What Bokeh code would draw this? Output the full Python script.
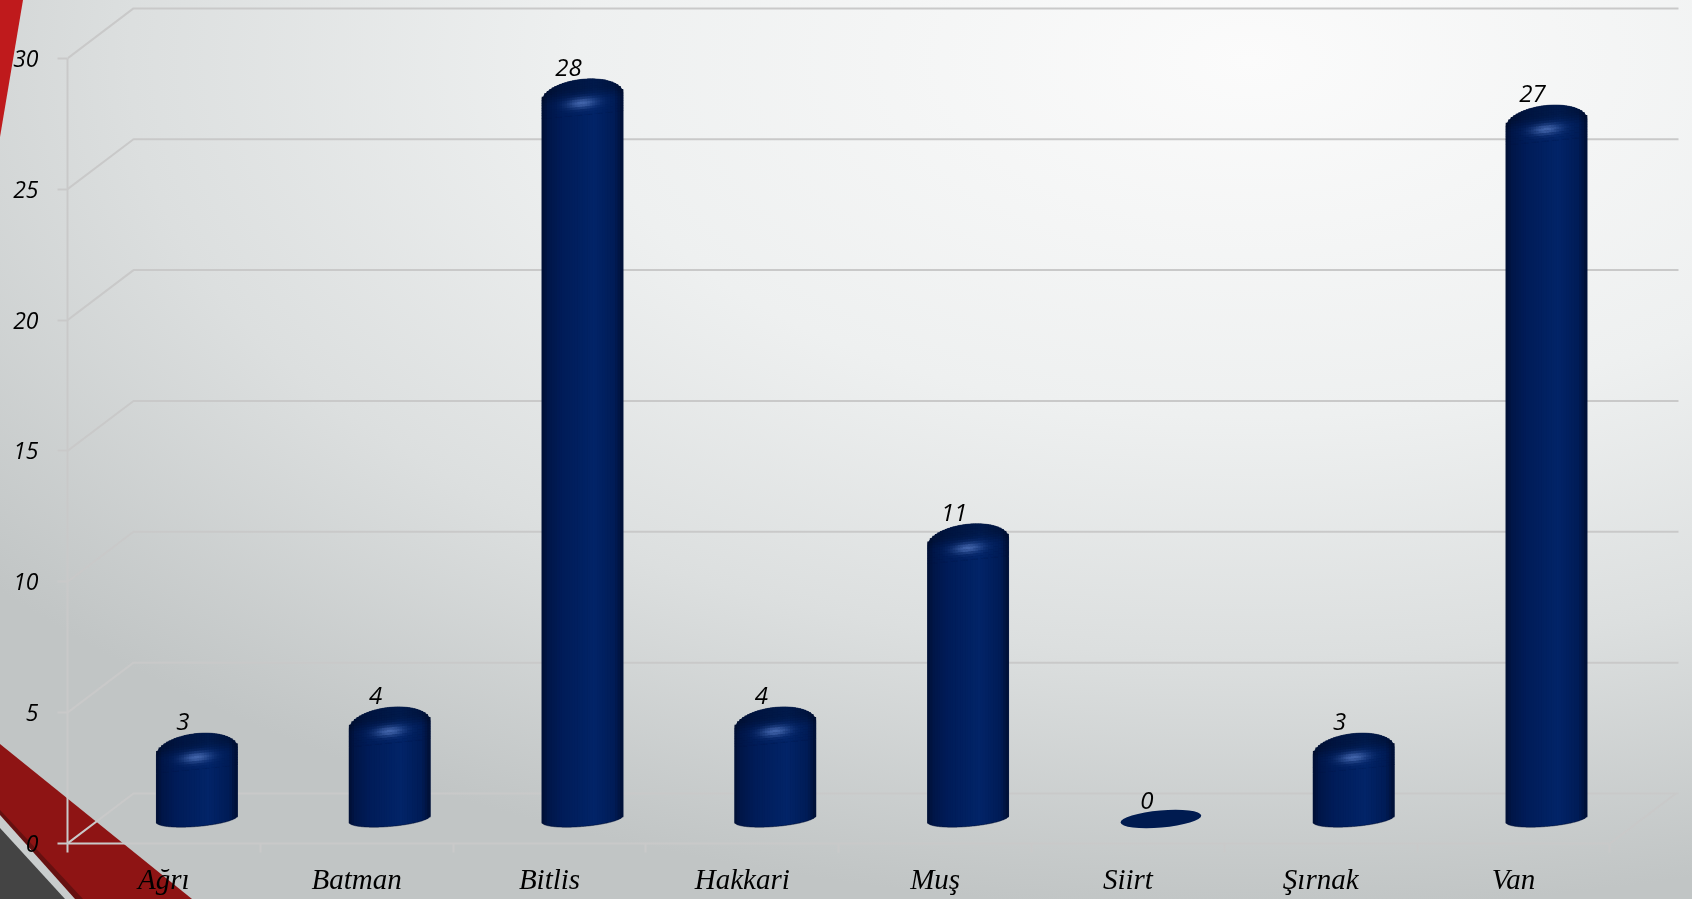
import numpy as np
from bokeh.core.properties import value
from bokeh.embed import file_html
from bokeh.models import ColumnDataSource, FixedTicker, Range1d
from bokeh.plotting import figure
from bokeh.resources import INLINE

categories = ["Ağrı", "Batman", "Bitlis", "Hakkari", "Muş", "Siirt", "Şırnak", "Van"]
values = [3, 4, 28, 4, 11, 0, 3, 27]
y_ticks = [0, 5, 10, 15, 20, 25, 30]

W, H = 1692, 899
LEFT, BOTTOM = 67, 56
PX, PY = 192.8, 26.17          # pixels per category slot / per unit of value
DEPTH_X, DEPTH_Y = 66 / PX, 50 / PY
BAR_DX = 33 / PX
BASE_Y = 24.5 / PY
A = 40.5

p = figure(
    width=W, height=H, output_backend="svg", toolbar_location=None,
    x_range=Range1d(0, (W - LEFT) / PX), y_range=Range1d(0, (H - BOTTOM) / PY),
    min_border_left=LEFT, min_border_bottom=BOTTOM, min_border_top=0, min_border_right=0,
    background_fill_color=None, border_fill_color=None, outline_line_color=None,
)

# ---- slide background: soft radial gradient plus the red/grey corner shapes
def poly(points, color):
    pts = " ".join(f"{x},{y}" for x, y in points)
    return f"<polygon points='{pts}' fill='%23{color}'/>"

deco = "".join([
    poly([(0, 0), (23, 0), (0, 137)], "bf1a1c"),
    poly([(0, 744), (192, 899), (0, 899)], "8e1414"),
    poly([(0, 810), (83, 899), (0, 899)], "661010"),
    poly([(0, 815), (75, 899), (0, 899)], "c9cdcd"),
    poly([(0, 828), (65, 899), (0, 899)], "444444"),
])
svg_uri = f"data:image/svg+xml,<svg xmlns='http://www.w3.org/2000/svg' width='{W}' height='{H}'>{deco}</svg>"
p.styles = {
    "position": "fixed", "left": "0", "top": "0",
    "background": f"url(\"{svg_uri}\") no-repeat, "
                  "radial-gradient(ellipse 1600px 850px at 1250px 60px, "
                  "#fbfbfb 0%, #eef0f0 42%, #dcdfdf 70%, #c1c5c5 100%)",
}
p.grid.visible = False

# ---- 3D walls
GRID = "#c9c9c9"
x_end = (W - 14 - LEFT) / PX
xs, ys = [], []
for v in y_ticks:
    xs.append([0, DEPTH_X, x_end])
    ys.append([v, v + DEPTH_Y, v + DEPTH_Y])
xs.append([8, 8 + DEPTH_X])
ys.append([0, DEPTH_Y])
p.multi_line(xs, ys, line_color=GRID, line_width=2)

# ---- cylinders
STOPS_T = [-1.0, -0.85, -0.5, 0.3, 0.8, 1.0]
STOPS_C = np.array([[0, 15, 50], [0, 22, 72], [0, 28, 88], [2, 36, 104], [0, 28, 86], [0, 15, 52]], float)

def side_color(t):
    return np.array([np.interp(t, STOPS_T, STOPS_C[:, k]) for k in range(3)])

def hexc(c):
    c = np.clip(np.round(c), 0, 255).astype(int)
    return "#%02x%02x%02x" % tuple(c)

N = 2.0

def upper(t, yd):
    return yd + (4 * t + 18 * (1 - np.abs(t) ** N) ** (1 / N)) / PY

def lower(t):
    return BASE_Y + (3.3 * t - 7.5 * np.sqrt(np.clip(1 - t ** 2, 0, 1))) / PY

sil_x, sil_y = [], []
L, R, B, T, C = [], [], [], [], []
edges = np.linspace(-1, 1, 33)
mids = (edges[1:] + edges[:-1]) / 2
HIGH = np.array([66, 100, 170], float)
for i, v in enumerate(values):
    cx = i + 0.5 + BAR_DX
    if v == 0:
        p.ellipse([cx], [BASE_Y], width=81, height=17, width_units="screen", height_units="screen",
                  angle=0.085, fill_color="#001b50", line_color=None)
        continue
    yd = BASE_Y + v - 11 / PY
    t = np.sin(np.linspace(-np.pi / 2, np.pi / 2, 121))
    sil_x.append(list(cx + t * A / PX) + list(cx + t[::-1] * A / PX))
    sil_y.append(list(upper(t, yd)) + list(lower(t[::-1])))
    for a, b, tm in zip(edges[:-1], edges[1:], mids):
        shade = side_color(tm)
        tilt = 4 * tm
        zone_bottom = yd + (tilt - 18) / PY
        l, r = cx + a * A / PX - 0.3 / PX, cx + b * A / PX + 0.3 / PX
        L.append(l); R.append(r); B.append(lower(tm) + 0.5 / PY); T.append(zone_bottom); C.append(hexc(shade))
        for row in range(15):
            d0, d1 = row * 2.5, (row + 1) * 2.5
            top = min(yd + (18 - d0 + tilt) / PY, upper(tm, yd))
            bot = max(yd + (18 - d1 - 0.3 + tilt) / PY, zone_bottom)
            if top <= bot:
                continue
            d = (d0 + d1) / 2
            s = np.clip((d - 8) / 16, 0, 1)
            f = 0.72 + 0.28 * s * s * (3 - 2 * s)
            k = np.exp(-((tm * A) / 14) ** 2 - ((d - 24) / 5) ** 2)
            c = shade * f
            c = c + k * (HIGH - c)
            L.append(l); R.append(r); B.append(bot); T.append(top); C.append(hexc(c))

p.patches(sil_x, sil_y, fill_color="#00143f", line_color="#00143f", line_width=0.5)
p.quad(left="l", right="r", bottom="b", top="t", fill_color="c", line_color=None,
       source=ColumnDataSource(dict(l=L, r=R, b=B, t=T, c=C)))

# ---- value labels
p.text([i + 0.5 for i in range(8)], values, text=[str(v) for v in values],
       x_offset=19, y_offset=-43, text_align="center", text_baseline="middle",
       text_font=value("Open Sans"), text_font_style="italic", text_font_size="24px",
       text_color="#000000")

# ---- axes
ya = p.yaxis[0]
ya.ticker = FixedTicker(ticks=y_ticks)
ya.bounds = (0, 30)
ya.axis_line_color = GRID
ya.axis_line_width = 2
ya.major_tick_line_color = GRID
ya.major_tick_line_width = 2
ya.major_tick_out = 10
ya.major_tick_in = 0
ya.minor_tick_line_color = None
ya.major_label_standoff = 19
ya.major_label_text_font = "Open Sans"
ya.major_label_text_font_style = "italic"
ya.major_label_text_font_size = "23px"
ya.major_label_text_color = "#000000"

xa = p.xaxis[0]
centers = [i + 0.5 for i in range(len(categories))]
xa.ticker = FixedTicker(ticks=centers, minor_ticks=list(range(len(categories) + 1)))
xa.major_label_overrides = dict(zip(centers, categories))
xa.bounds = (0, 8)
xa.axis_line_color = GRID
xa.axis_line_width = 2
xa.major_tick_line_color = None
xa.minor_tick_line_color = GRID
xa.minor_tick_line_width = 2
xa.minor_tick_out = 9
xa.minor_tick_in = 0
xa.major_tick_out = 9
xa.major_label_standoff = 10
xa.major_label_text_font = "Liberation Serif"
xa.major_label_text_font_style = "italic"
xa.major_label_text_font_size = "29px"
xa.major_label_text_color = "#000000"

open("out.html", "w").write(file_html(p, INLINE))
